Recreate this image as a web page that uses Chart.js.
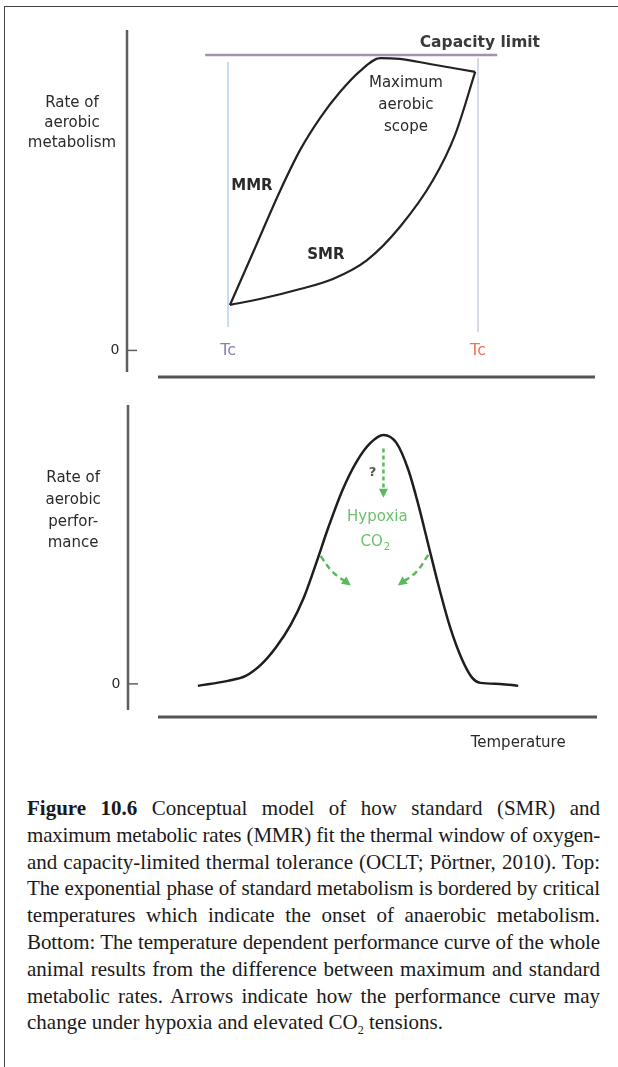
<!DOCTYPE html>
<html>
<head>
<meta charset="utf-8">
<script src="https://cdn.jsdelivr.net/npm/chart.js@4.4.0/dist/chart.umd.min.js"></script>
<style>
  html, body { margin: 0; padding: 0; background: #fff; }
  body { width: 618px; height: 1067px; position: relative; overflow: hidden; }
  .frame { position: absolute; left: 4px; top: 6px; width: 700px; height: 1200px;
           border-left: 1.5px solid #444; border-top: 1.5px solid #444; }
  #topChart { position: absolute; left: 0; top: 0; }
  #bottomChart { position: absolute; left: 0; top: 390px; }
  .caption { position: absolute; left: 27px; top: 795px; width: 573px;
             font-family: 'Liberation Serif', 'Times New Roman', serif;
             font-size: 21px; line-height: 26.8px; color: #1a1a1a; }
  .caption div { text-align: justify; text-align-last: justify; }
  .caption div.last { text-align-last: left; }
  .caption sub { font-size: 12px; line-height: 0; }
</style>
</head>
<body>
<div class="frame"></div>
<canvas id="topChart" width="618" height="390"></canvas>
<canvas id="bottomChart" width="618" height="380"></canvas>

<div class="caption">
  <div><b>Figure 10.6</b> Conceptual model of how standard (SMR) and</div>
  <div>maximum metabolic rates (MMR) fit the thermal window of oxygen-</div>
  <div>and capacity-limited thermal tolerance (OCLT; Pörtner, 2010). Top:</div>
  <div>The exponential phase of standard metabolism is bordered by critical</div>
  <div>temperatures which indicate the onset of anaerobic metabolism.</div>
  <div>Bottom: The temperature dependent performance curve of the whole</div>
  <div>animal results from the difference between maximum and standard</div>
  <div>metabolic rates. Arrows indicate how the performance curve may</div>
  <div class="last">change under hypoxia and elevated CO<sub>2</sub> tensions.</div>
</div>

<script>
// Top panel: rate of aerobic metabolism vs temperature
const mmrTemp = [22.0, 27.35, 32.7, 37.0, 41.24, 45.51, 49.79, 54.1, 58.3, 64.7, 74.4];
const mmrRate = [1.54, 3.47, 5.40, 6.79, 7.87, 8.75, 9.46, 9.90, 9.87, 9.70, 9.43];
const smrTemp = [22.0, 28.4, 37.0, 44.0, 51.3, 58.3, 65.4, 70.1, 74.4];
const smrRate = [1.54, 1.74, 2.08, 2.42, 3.06, 4.18, 5.77, 7.30, 9.43];
const capacityLimit = 10;
const capacityTemp = [16.7, 79.1];
const tcLow = 21.6;
const tcHigh = 75.0;
const tcLowSpan = [0.79, 9.77];
const tcHighSpan = [0.62, 9.9];

// Bottom panel: rate of aerobic performance vs temperature
const perfTemp = [14.96, 21.37, 25.21, 28.42, 31.62, 34.83, 37.61, 40.17, 42.95, 45.94, 48.93, 51.92, 54.7,
                  57.48, 60.04, 62.18, 64.32, 66.45, 69.02, 71.58, 73.72, 75.43, 79.7, 83.55];
const perfRate = [-0.08, 0.12, 0.32, 0.76, 1.45, 2.37, 3.45, 4.78, 6.31, 7.79, 8.92, 9.68, 10.0,
                  9.68, 8.59, 7.19, 5.58, 3.98, 2.25, 0.96, 0.24, 0.04, 0.0, -0.08];
// green arrows (hypoxia / CO2 effect)
const dropTemp = [54.7, 54.7];
const dropRate = [9.45, 7.6];
const leftArrowTemp = [41.24, 43.8, 47.2];
const leftArrowRate = [5.14, 4.50, 4.02];
const rightArrowTemp = [64.3, 61.75, 58.3];
const rightArrowRate = [5.18, 4.50, 4.02];

const pts = (xs, ys) => xs.map((x, i) => ({ x: x, y: ys[i] }));

const FONT = "'DejaVu Sans', 'Liberation Sans', Arial, sans-serif";
const GREEN = '#5cb85c';
const INK = '#2a2a2a';

// axis lines drawn like the hand-made figure (y axis and x axis do not touch)
const axisLines = {
    id: 'axisLines',
    beforeDatasetsDraw(chart, args, opts) {
        const { ctx, chartArea: a, scales: { y } } = chart;
        const zero = y.getPixelForValue(0);
        ctx.save();
        ctx.strokeStyle = '#5e5e5e';
        ctx.lineWidth = 2.5;
        ctx.beginPath();
        ctx.moveTo(a.left, a.top);
        ctx.lineTo(a.left, a.bottom - opts.yGap);
        ctx.stroke();
        ctx.lineWidth = 1.5;
        ctx.beginPath();
        ctx.moveTo(a.left, zero);
        ctx.lineTo(a.left + 10, zero);
        ctx.stroke();
        ctx.strokeStyle = '#555';
        ctx.lineWidth = 3;
        ctx.beginPath();
        ctx.moveTo(a.left + opts.xStart, a.bottom);
        ctx.lineTo(a.right + opts.xExtra, a.bottom);
        ctx.stroke();
        ctx.restore();
    }
};

// text labels placed in data units
const notes = {
    id: 'notes',
    afterDatasetsDraw(chart, args, opts) {
        const { ctx, scales: { x, y } } = chart;
        ctx.save();
        ctx.textBaseline = 'middle';
        opts.items.forEach(n => {
            const px = x.getPixelForValue(n.x);
            const py = y.getPixelForValue(n.y);
            ctx.font = n.font || ('15px ' + FONT);
            ctx.fillStyle = n.color || INK;
            ctx.textAlign = n.align || 'center';
            if (n.sub) {
                const w = ctx.measureText(n.text).width;
                ctx.textAlign = 'left';
                ctx.fillText(n.text, px - w / 2 - 3, py);
                ctx.font = '10px ' + FONT;
                ctx.fillText(n.sub, px + w / 2 - 2, py + 5);
            } else {
                ctx.fillText(n.text, px, py);
            }
        });
        ctx.restore();
    }
};

// arrow heads on the dashed green arrows
const arrowHeads = {
    id: 'arrowHeads',
    afterDatasetsDraw(chart) {
        const ctx = chart.ctx;
        chart.data.datasets.forEach((ds, i) => {
            if (!ds.arrow) return;
            const el = chart.getDatasetMeta(i).data;
            const p1 = el[el.length - 2], p2 = el[el.length - 1];
            const ang = Math.atan2(p2.y - p1.y, p2.x - p1.x);
            ctx.save();
            ctx.translate(p2.x, p2.y);
            ctx.rotate(ang);
            ctx.fillStyle = ds.borderColor;
            ctx.beginPath();
            ctx.moveTo(3, 0);
            ctx.lineTo(-6, -4.5);
            ctx.lineTo(-6, 4.5);
            ctx.closePath();
            ctx.fill();
            ctx.restore();
        });
    }
};

const baseOptions = (yMin, yMax, padding) => ({
    responsive: false,
    animation: false,
    layout: { padding: padding },
    elements: { point: { radius: 0 } },
    scales: {
        x: { type: 'linear', min: 0, max: 100, display: false },
        y: { type: 'linear', min: yMin, max: yMax, display: false }
    }
});

// Top chart
const topOpts = baseOptions(-0.9, 10.85, { left: 127, right: 23, top: 30, bottom: 13 });
topOpts.plugins = {
    legend: { display: false },
    tooltip: { enabled: false },
    axisLines: { yGap: 5, xStart: 31, xExtra: 0 },
    notes: {
        items: [
            { text: 'Capacity limit', x: 75.4, y: 10.41, font: 'bold 15.5px ' + FONT, color: '#3a3a3a' },
            { text: 'Maximum', x: 59.6, y: 9.06 },
            { text: 'aerobic', x: 59.6, y: 8.31 },
            { text: 'scope', x: 59.6, y: 7.57 },
            { text: 'MMR', x: 26.7, y: 5.57, font: 'bold 15px ' + FONT },
            { text: 'SMR', x: 42.5, y: 3.23, font: 'bold 15px ' + FONT },
            { text: 'Tc', x: tcLow, y: 0, font: '16px ' + FONT, color: '#7f7fc4' },
            { text: 'Tc', x: tcHigh, y: 0, font: '16px ' + FONT, color: '#ec7556' },
            { text: '0', x: -2.56, y: 0, font: '14px ' + FONT },
            { text: 'Rate of', x: -11.75, y: 8.38 },
            { text: 'aerobic', x: -11.75, y: 7.70 },
            { text: 'metabolism', x: -11.75, y: 7.02 }
        ]
    }
};

new Chart(document.getElementById('topChart'), {
    type: 'line',
    data: {
        datasets: [
            {
                label: 'Capacity limit',
                data: pts(capacityTemp, capacityTemp.map(() => capacityLimit)),
                borderColor: '#a48fb6',
                borderWidth: 2.5
            },
            {
                label: 'Tc low',
                data: pts([tcLow, tcLow], tcLowSpan),
                borderColor: '#bccfea',
                borderWidth: 1.5
            },
            {
                label: 'Tc high',
                data: pts([tcHigh, tcHigh], tcHighSpan),
                borderColor: '#c7d0dd',
                borderWidth: 1.5
            },
            {
                label: 'MMR',
                data: pts(mmrTemp, mmrRate),
                borderColor: '#222',
                borderWidth: 2.2,
                cubicInterpolationMode: 'monotone'
            },
            {
                label: 'SMR',
                data: pts(smrTemp, smrRate),
                borderColor: '#222',
                borderWidth: 2.2,
                cubicInterpolationMode: 'monotone'
            }
        ]
    },
    options: topOpts,
    plugins: [axisLines, notes]
});

// Bottom chart
const bottomOpts = baseOptions(-1.33, 11.2, { left: 128, right: 23, top: 15, bottom: 53 });
bottomOpts.plugins = {
    legend: { display: false },
    tooltip: { enabled: false },
    axisLines: { yGap: 7, xStart: 30, xExtra: 2 },
    notes: {
        items: [
            { text: '?', x: 52.35, y: 8.47, font: 'bold 13px ' + FONT, color: '#555' },
            { text: 'Hypoxia', x: 53.4, y: 6.71, color: '#6cc16c' },
            { text: 'CO', sub: '2', x: 52.8, y: 5.70, color: '#6cc16c' },
            { text: '0', x: -2.56, y: 0, font: '14px ' + FONT },
            { text: 'Temperature', x: 83.55, y: -2.37 },
            { text: 'Rate of', x: -11.75, y: 8.27 },
            { text: 'aerobic', x: -11.75, y: 7.39 },
            { text: 'perfor-', x: -11.75, y: 6.51 },
            { text: 'mance', x: -11.75, y: 5.66 }
        ]
    }
};

new Chart(document.getElementById('bottomChart'), {
    type: 'line',
    data: {
        datasets: [
            {
                label: 'Performance',
                data: pts(perfTemp, perfRate),
                borderColor: '#1e1e1e',
                borderWidth: 2.5,
                cubicInterpolationMode: 'monotone'
            },
            {
                label: 'drop',
                data: pts(dropTemp, dropRate),
                borderColor: GREEN,
                borderWidth: 2.5,
                borderDash: [4, 3],
                arrow: true
            },
            {
                label: 'left shift',
                data: pts(leftArrowTemp, leftArrowRate),
                borderColor: GREEN,
                borderWidth: 2.5,
                borderDash: [6, 4],
                tension: 0.4,
                arrow: true
            },
            {
                label: 'right shift',
                data: pts(rightArrowTemp, rightArrowRate),
                borderColor: GREEN,
                borderWidth: 2.5,
                borderDash: [6, 4],
                tension: 0.4,
                arrow: true
            }
        ]
    },
    options: bottomOpts,
    plugins: [axisLines, notes, arrowHeads]
});

// squeeze caption lines that are too long for the column, like the printed page
document.querySelectorAll('.caption div').forEach(line => {
    const keep = line.className;
    line.style.whiteSpace = 'nowrap';
    line.style.textAlignLast = 'left';
    const r = document.createRange();
    r.selectNodeContents(line);
    const w = r.getBoundingClientRect().width;
    const limit = 572;
    if (w > limit) {
        const n = line.textContent.trim().length;
        line.style.letterSpacing = ((limit - w) / n - 0.02) + 'px';
    }
    line.style.textAlignLast = '';
    line.style.whiteSpace = '';
    line.className = keep;
});
</script>
</body>
</html>
